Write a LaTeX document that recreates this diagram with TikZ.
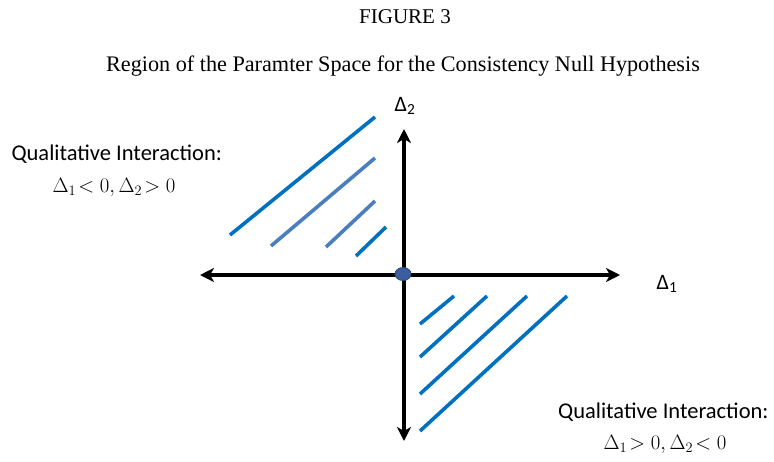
\documentclass[tikz,border=0pt]{standalone}
\usepackage{fontspec}
\setmainfont{Liberation Serif}
\newfontfamily\calib{Carlito}
\usetikzlibrary{arrows.meta,shapes.geometric}
\definecolor{hatchA}{RGB}{0,112,192}
\definecolor{hatchB}{RGB}{74,126,190}
\definecolor{dotfill}{RGB}{60,94,156}
\definecolor{dotline}{RGB}{40,70,120}
\begin{document}
\begin{tikzpicture}[x=1pt,y=-1pt,
  axis/.style={line width=3.2pt,draw=black,{Stealth[length=14pt,width=14pt,inset=4pt]}-{Stealth[length=14pt,width=14pt,inset=4pt]}},
  hatch/.style={line width=3.6pt,draw=hatchA},
  hatchlight/.style={line width=3.6pt,draw=hatchB},
  figtext/.style={font=\fontsize{21}{24}\selectfont},
  titletext/.style={font=\fontsize{22.2}{26}\selectfont},
  qtext/.style={font=\calib\fontsize{22.5}{26}\selectfont},
  mtext/.style={font=\fontsize{20.5}{24}\selectfont},
  axlabel/.style={font=\calib\fontsize{22}{26}\selectfont}]
\useasboundingbox (0,0) rectangle (774,461);
% titles
\node[figtext] (fig) at (405,17) {FIGURE 3};
\node[titletext] (sub) at (403,66) {Region of the Paramter Space for the Consistency Null Hypothesis};
% axes
\coordinate (xl) at (200,275);
\coordinate (xr) at (620,275);
\coordinate (yt) at (404,129);
\coordinate (yb) at (404,441);
\draw[axis] (xl) -- (xr);
\draw[axis] (yb) -- (yt);
\node[ellipse,draw=dotline,fill=dotfill,line width=0.8pt,minimum width=16pt,minimum height=13pt,inner sep=0pt] (origin) at (403,274) {};
% axis labels
\node[axlabel] (d2) at (405,106) {Δ\textsubscript{2}};
\node[axlabel] (d1) at (667,284) {Δ\textsubscript{1}};
% upper-left hatch
\coordinate (a1s) at (230,235); \coordinate (a1e) at (375,117);
\coordinate (a2s) at (271,246); \coordinate (a2e) at (375,158);
\coordinate (a3s) at (326,247); \coordinate (a3e) at (375,201);
\coordinate (a4s) at (356,256); \coordinate (a4e) at (386,227);
\draw[hatch] (a1s) -- (a1e);
\draw[hatchlight] (a2s) -- (a2e);
\draw[hatchlight] (a3s) -- (a3e);
\draw[hatch] (a4s) -- (a4e);
% lower-right hatch
\coordinate (b1s) at (420,324); \coordinate (b1e) at (454,296);
\coordinate (b2s) at (420,357); \coordinate (b2e) at (487,296);
\coordinate (b3s) at (420,394); \coordinate (b3e) at (527,296);
\coordinate (b4s) at (420,431); \coordinate (b4e) at (567,296);
\draw[hatch] (b1s) -- (b1e);
\draw[hatch] (b2s) -- (b2e);
\draw[hatch] (b3s) -- (b3e);
\draw[hatch] (b4s) -- (b4e);
% region labels
\node[qtext,anchor=west] (ql) at (8,154) {Qualitative Interaction:};
\node[mtext] (ml) at (114,187) {$\Delta_1\!< 0, \Delta_2\!> 0$};
\node[qtext,anchor=east] (qr) at (772,412) {Qualitative Interaction:};
\node[mtext] (mr) at (665,444) {$\Delta_1\!> 0, \Delta_2\!< 0$};
\end{tikzpicture}
\end{document}
